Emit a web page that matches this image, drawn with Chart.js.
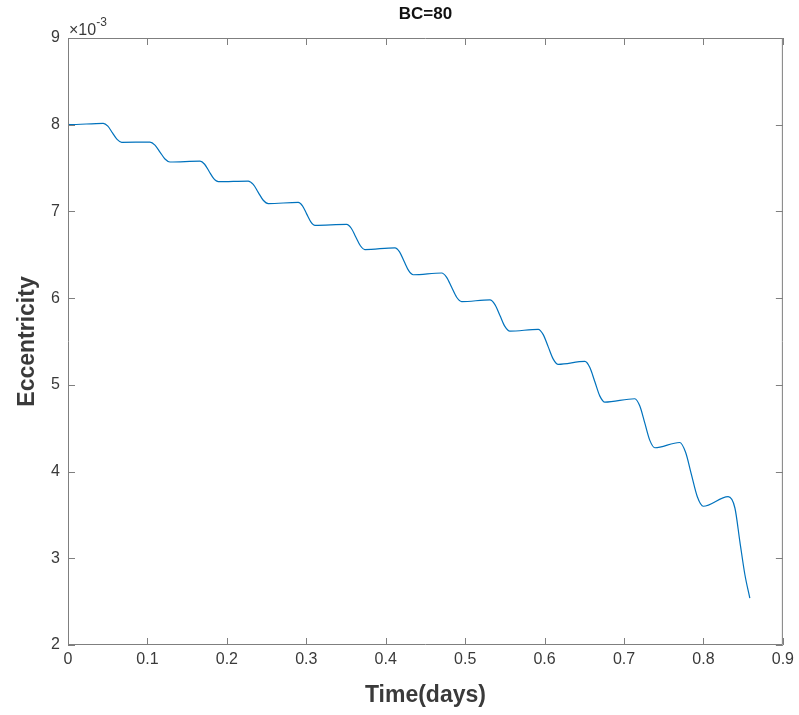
<!DOCTYPE html>
<html>
    <head>
        <title>BC=80</title>
        <script src="https://cdn.jsdelivr.net/npm/chart.js@4.4.1/dist/chart.umd.min.js"></script>
    </head>
    <style>
        body {
            margin: 0;
            background: #ffffff;
        }
        #wrap {
            width: 799px;
            height: 715px;
            position: relative;
        }
    </style>
    <body>
        <div id="wrap"><canvas id="eccChart" width="799" height="715"></canvas></div>
        <script>
        // time in days, eccentricity in units of 1e-3
        const timeDays = [
            0, 0.0013, 0.0444, 0.0502, 0.0560, 0.0618, 0.0676,
            0.1032, 0.1095, 0.1158, 0.1221, 0.1284,
            0.1662, 0.1720, 0.1777, 0.1835, 0.1892,
            0.2269, 0.2332, 0.2395, 0.2458, 0.2521,
            0.2899, 0.2952, 0.3004, 0.3057, 0.3109,
            0.3508, 0.3566, 0.3623, 0.3681, 0.3738,
            0.4116, 0.4174, 0.4231, 0.4289, 0.4346,
            0.4704, 0.4767, 0.4830, 0.4893, 0.4956,
            0.5312, 0.5375, 0.5438, 0.5500, 0.5563,
            0.5920, 0.5983, 0.6046, 0.6109, 0.6172,
            0.6507, 0.6570, 0.6633, 0.6696, 0.6759,
            0.7136, 0.7199, 0.7262, 0.7325, 0.7388,
            0.7700, 0.7774, 0.7848, 0.7923, 0.7997,
            0.8311, 0.8396, 0.8459, 0.8522, 0.8584
        ];
        const eccE3 = [
            8.03, 8.00, 8.016, 7.983, 7.906, 7.830, 7.797,
            7.80, 7.765, 7.685, 7.605, 7.57,
            7.58, 7.544, 7.461, 7.379, 7.343,
            7.35, 7.311, 7.22, 7.129, 7.09,
            7.105, 7.065, 6.972, 6.88, 6.84,
            6.85, 6.806, 6.705, 6.604, 6.56,
            6.58, 6.534, 6.425, 6.317, 6.27,
            6.29, 6.24, 6.125, 6.01, 5.96,
            5.98, 5.926, 5.80, 5.674, 5.62,
            5.64, 5.579, 5.438, 5.297, 5.236,
            5.27, 5.20, 5.035, 4.87, 4.80,
            4.84, 4.755, 4.558, 4.36, 4.275,
            4.335, 4.225, 3.968, 3.71, 3.60,
            3.71, 3.58, 3.19, 2.81, 2.54
        ];
        const xTicks = [0, 0.1, 0.2, 0.3, 0.4, 0.5, 0.6, 0.7, 0.8, 0.9];
        const yTicks = [2, 3, 4, 5, 6, 7, 8, 9];

        const FONT = "'Liberation Sans', Arial, Helvetica, sans-serif";
        const AXIS = '#7f7f7f';
        const TEXT = '#3a3a3a';

        // matlab style: ticks pointing inwards on all four sides, box, title, exponent
        const matlabBox = {
            id: 'matlabBox',
            afterDraw(chart) {
                const {ctx, chartArea: a, scales} = chart;
                const len = 7;
                ctx.save();
                ctx.strokeStyle = AXIS;
                ctx.lineWidth = 1;
                ctx.beginPath();
                ctx.rect(a.left + 0.5, a.top + 0.5, a.right - a.left - 1, a.bottom - a.top - 1);
                scales.x.ticks.forEach(t => {
                    const px = Math.round(scales.x.getPixelForValue(t.value)) + 0.5;
                    ctx.moveTo(px, a.bottom);
                    ctx.lineTo(px, a.bottom - len);
                    ctx.moveTo(px, a.top);
                    ctx.lineTo(px, a.top + len);
                });
                scales.y.ticks.forEach(t => {
                    const py = Math.round(scales.y.getPixelForValue(t.value)) + 0.5;
                    ctx.moveTo(a.left, py);
                    ctx.lineTo(a.left + len, py);
                    ctx.moveTo(a.right, py);
                    ctx.lineTo(a.right - len, py);
                });
                ctx.stroke();

                ctx.fillStyle = '#111111';
                ctx.font = 'bold 17px ' + FONT;
                ctx.textAlign = 'center';
                ctx.textBaseline = 'middle';
                ctx.fillText('BC=80', (a.left + a.right) / 2, 14);

                ctx.fillStyle = TEXT;
                ctx.textAlign = 'left';
                ctx.textBaseline = 'alphabetic';
                ctx.font = '16px ' + FONT;
                ctx.fillText('\u00d710', a.left + 1, a.top - 3);
                const w = ctx.measureText('\u00d710').width;
                ctx.font = '12px ' + FONT;
                ctx.fillText('-3', a.left + 1 + w, a.top - 12);
                ctx.restore();
            }
        };

        document.addEventListener("DOMContentLoaded", function () {
            const ctx = document.getElementById('eccChart').getContext('2d');
            new Chart(ctx, {
                type: 'line',
                data: {
                    datasets: [{
                        data: timeDays.map((t, i) => ({x: t, y: eccE3[i]})),
                        borderColor: '#0072BD',
                        borderWidth: 1.2,
                        pointRadius: 0,
                        fill: false,
                        cubicInterpolationMode: 'monotone'
                    }]
                },
                options: {
                    responsive: false,
                    animation: false,
                    layout: {padding: {top: 38, right: 16, left: 0, bottom: 0}},
                    plugins: {
                        legend: {display: false},
                        title: {display: false},
                        tooltip: {enabled: false}
                    },
                    scales: {
                        x: {
                            type: 'linear',
                            min: 0,
                            max: 0.9,
                            afterFit: s => { s.height = 70; },
                            afterBuildTicks: s => { s.ticks = xTicks.map(v => ({value: v})); },
                            grid: {display: false, drawTicks: false},
                            border: {display: false},
                            ticks: {
                                padding: 5,
                                color: TEXT,
                                font: {family: FONT, size: 16},
                                maxRotation: 0,
                                callback: v => String(parseFloat(v.toFixed(1)))
                            },
                            title: {
                                display: true,
                                text: 'Time(days)',
                                color: TEXT,
                                font: {family: FONT, size: 23, weight: 'bold'},
                                padding: {top: 0, bottom: 6}
                            }
                        },
                        y: {
                            min: 2,
                            max: 9,
                            afterFit: s => { s.width = 68; },
                            afterBuildTicks: s => { s.ticks = yTicks.map(v => ({value: v})); },
                            grid: {display: false, drawTicks: false},
                            border: {display: false},
                            ticks: {
                                padding: 8,
                                color: TEXT,
                                font: {family: FONT, size: 16}
                            },
                            title: {
                                display: true,
                                text: 'Eccentricity',
                                color: TEXT,
                                font: {family: FONT, size: 23, weight: 'bold'},
                                padding: {top: 14, bottom: 0}
                            }
                        }
                    }
                },
                plugins: [matlabBox]
            });
        });
        </script>
    </body>
</html>
